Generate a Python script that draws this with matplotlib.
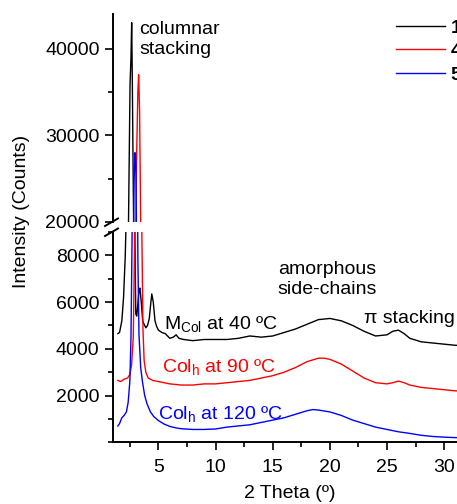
import matplotlib
matplotlib.use("Agg")
import matplotlib.pyplot as plt
from matplotlib.ticker import MultipleLocator
from matplotlib.lines import Line2D

plt.rcParams['font.family'] = ['Liberation Sans', 'DejaVu Sans']
plt.rcParams['mathtext.default'] = 'regular'

# ---- data ----
x_40 = [1.45, 1.6, 1.8, 1.95, 2.1, 2.25, 2.35, 2.45, 2.52, 2.6, 2.66, 2.72, 2.8, 2.88, 2.95, 3.02, 3.1,
        3.2, 3.3, 3.38, 3.5, 3.62, 3.75, 3.9, 4.05, 4.2, 4.32, 4.42, 4.55, 4.7, 4.85, 5.0, 5.3, 5.6,
        6.0, 6.3, 6.55, 6.8, 7.2, 8, 9, 10, 11, 12, 13, 14, 15, 16, 17, 18, 19, 20, 21, 22, 23,
        24, 25, 25.5, 26, 26.5, 27, 28, 29, 30, 31, 32]
y_40 = [4650, 4700, 5200, 6200, 8000, 11000, 16000, 28000, 36000, 39000, 43000, 36000, 24000, 14000,
        8500, 5500, 5400, 5900, 6500, 6600, 6000, 5200, 5050, 4900, 5000, 5300, 5900, 6350, 6000,
        5200, 4950, 4800, 4700, 4650, 4450, 4500, 4600, 4450, 4400, 4350, 4400, 4400, 4400, 4450,
        4550, 4500, 4550, 4700, 4850, 5050, 5250, 5300, 5200, 5000, 4750, 4550, 4600, 4750, 4800,
        4650, 4450, 4300, 4250, 4200, 4150, 4150]

x_90 = [1.45, 1.7, 2.0, 2.3, 2.5, 2.65, 2.8, 2.9, 3.0, 3.1, 3.2, 3.27, 3.35, 3.45, 3.55, 3.65,
        3.75, 3.9, 4.1, 4.5, 5.0, 6, 7, 8, 9, 10, 11, 12, 13, 14, 15, 16, 17, 18, 19, 19.5, 20,
        21, 22, 23, 24, 25, 25.5, 26, 26.5, 27, 28, 29, 30, 31, 32]
y_90 = [2650, 2600, 2700, 2750, 2900, 3300, 4500, 8000, 16000, 28000, 35000, 37000, 33000, 20000,
        9000, 4800, 3500, 3000, 2750, 2650, 2600, 2500, 2450, 2450, 2500, 2500, 2550, 2600, 2650,
        2750, 2850, 3000, 3200, 3450, 3600, 3600, 3550, 3350, 3050, 2750, 2550, 2500, 2550, 2620,
        2550, 2450, 2350, 2300, 2250, 2200, 2200]

x_120 = [1.45, 1.6, 1.8, 2.0, 2.2, 2.35, 2.5, 2.6, 2.7, 2.8, 2.88, 2.95, 3.02, 3.1, 3.2, 3.3, 3.45,
         3.6, 3.8, 4.0, 4.3, 4.6, 5.0, 5.5, 6, 6.5, 7, 8, 9, 10, 11, 12, 13, 14, 15, 16, 17, 18,
         18.5, 19, 20, 21, 22, 23, 24, 25, 26, 27, 28, 29, 30, 31, 32]
y_120 = [700, 800, 1050, 1150, 1300, 1700, 2600, 4500, 9000, 17000, 25000, 28000, 27000, 17000,
         8000, 4600, 3200, 2600, 2000, 1650, 1300, 1100, 930, 780, 680, 620, 580, 550, 550, 570,
         650, 700, 750, 850, 950, 1050, 1200, 1350, 1400, 1380, 1300, 1150, 950, 800, 650, 550,
         450, 380, 300, 250, 220, 200, 190]

series = [(x_40, y_40, 'black', '1'), (x_90, y_90, 'red', '4'), (x_120, y_120, 'blue', '5')]

xlim = (1, 32)
ylim_top = (20000, 44000)
ylim_bot = (0, 9000)

W, H = 457, 504
fig = plt.figure(figsize=(W / 100, H / 100), dpi=100)
fig.patch.set_facecolor('white')

left_px, right_px = 112.7, 467
ax_top = fig.add_axes([left_px / W, 1 - 222 / H, (right_px - left_px) / W, (222 - 14) / H])
ax_bot = fig.add_axes([left_px / W, 1 - 442.3 / H, (right_px - left_px) / W, (442.3 - 232) / H])

for ax in (ax_top, ax_bot):
    for x, y, c, lab in series:
        ax.plot(x, y, color=c, lw=1.0, label=lab)
    ax.set_xlim(*xlim)
    ax.spines['right'].set_visible(False)
    ax.spines['top'].set_visible(False)
    ax.tick_params(which='both', direction='out', labelsize=14, width=1.2)
    ax.tick_params(which='major', length=6)
    ax.tick_params(which='minor', length=3.5)
    ax.spines['left'].set_linewidth(1.4)
    ax.spines['bottom'].set_linewidth(1.4)

ax_top.set_ylim(*ylim_top)
ax_bot.set_ylim(*ylim_bot)
ax_top.spines['bottom'].set_visible(False)
ax_top.tick_params(axis='x', which='both', bottom=False, labelbottom=False)
ax_top.yaxis.set_major_locator(MultipleLocator(10000))
ax_top.yaxis.set_minor_locator(MultipleLocator(5000))
ax_bot.yaxis.set_major_locator(MultipleLocator(2000))
ax_bot.yaxis.set_minor_locator(MultipleLocator(1000))
ax_bot.set_yticks([2000, 4000, 6000, 8000])
ax_bot.xaxis.set_major_locator(MultipleLocator(5))
ax_bot.xaxis.set_minor_locator(MultipleLocator(2.5))
ax_bot.set_xticks([5, 10, 15, 20, 25, 30])
ax_bot.tick_params(axis='x', pad=6)
ax_top.set_facecolor('none')
ax_bot.set_facecolor('none')

# break marks
for (x0, y0, x1, y1) in [(105, 226, 118, 218.5), (105, 236, 118, 228.5)]:
    fig.add_artist(Line2D([x0 / W, x1 / W], [1 - y0 / H, 1 - y1 / H], color='black', lw=1.4))

# annotations
ax_top.text(3.3, 43200, 'columnar\nstacking', fontsize=14, va='top', ha='left', linespacing=1.25)
ax_bot.text(19.8, 7750, 'amorphous\nside-chains', fontsize=14, va='top', ha='center', linespacing=1.25)
ax_bot.text(23.0, 5300, '\u03c0 stacking', fontsize=14, va='center', ha='left')
ax_bot.text(5.5, 4870, r'$M_{Col}$ at 40 ºC', fontsize=14, color='black', va='baseline', ha='left')
ax_bot.text(5.3, 3000, r'$Col_{h}$ at 90 ºC', fontsize=14, color='red', va='baseline', ha='left')
ax_bot.text(5.0, 1010, r'$Col_{h}$ at 120 ºC', fontsize=14, color='blue', va='baseline', ha='left')

fig.text(22 / W, 1 - 211 / H, 'Intensity (Counts)', rotation=90, fontsize=14, va='center', ha='center')
fig.text(290 / W, 1 - 493 / H, '2 Theta (º)', fontsize=14, va='center', ha='center')

handles, labels = ax_top.get_legend_handles_labels()
fig.legend(handles, labels, loc='upper left', bbox_to_anchor=(396 / W, 1 - 19 / H),
           frameon=False, fontsize=14, handlelength=2.5, handletextpad=0.3,
           labelspacing=0.3, borderpad=0, borderaxespad=0, prop={'weight': 'bold', 'size': 14})

fig.savefig('out.png', dpi=100, facecolor='white')
